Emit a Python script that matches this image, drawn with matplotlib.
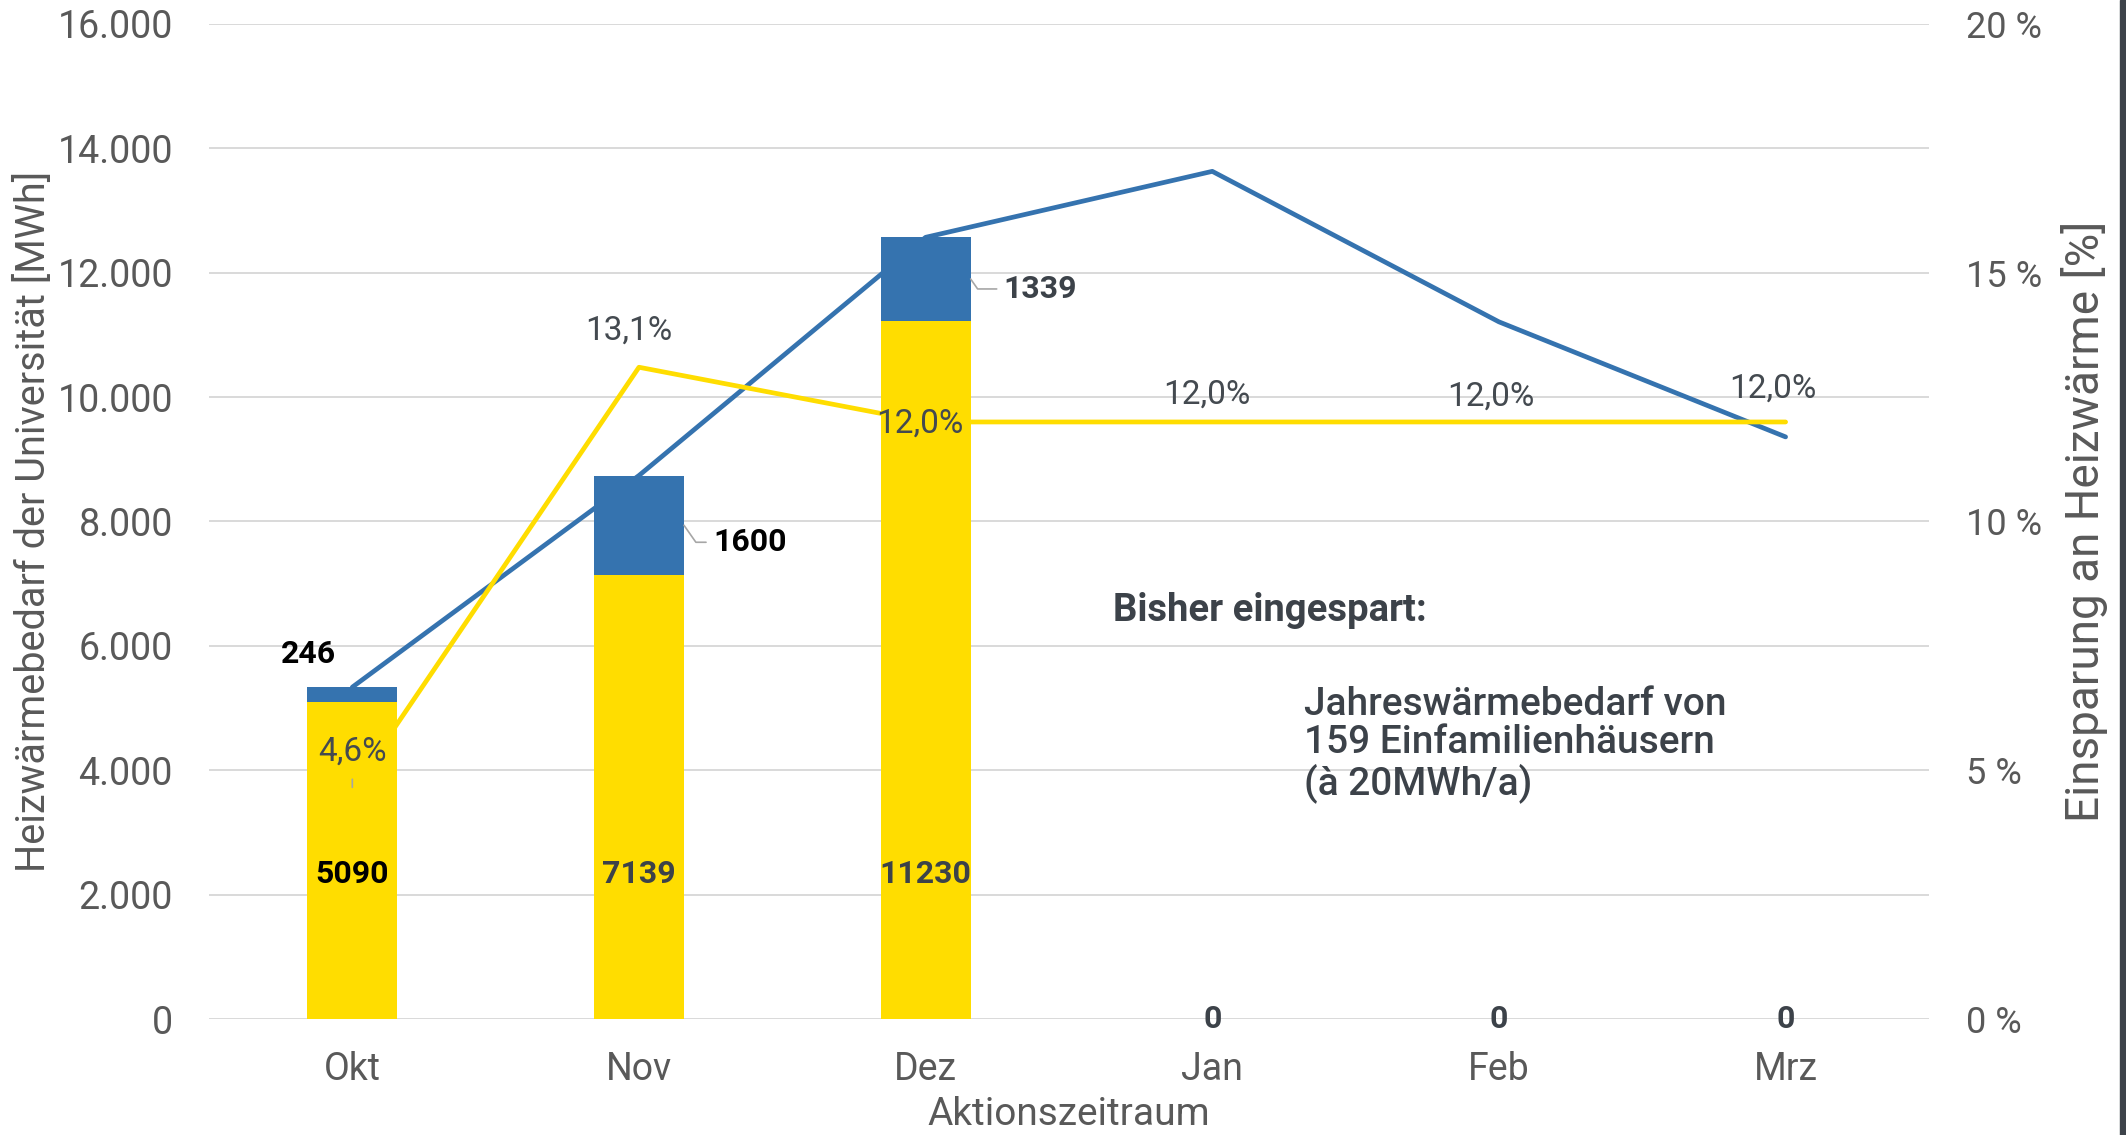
import matplotlib
matplotlib.use('Agg')
import matplotlib.pyplot as plt
from matplotlib.patches import Rectangle
from matplotlib.ticker import FuncFormatter, MultipleLocator

plt.rcParams['font.family'] = ['Roboto', 'DejaVu Sans']

# Daten
monate = ['Okt', 'Nov', 'Dez', 'Jan', 'Feb', 'Mrz']
verbrauch = [5090, 7139, 11230, 0, 0, 0]        # gelb
eingespart = [246, 1600, 1339, 0, 0, 0]          # blau
bedarf_gesamt = [5336, 8739, 12569, 13630, 11210, 9360]
einsparung_proz = [4.6, 13.1, 12.0, 12.0, 12.0, 12.0]
proz_labels = ['4,6%', '13,1%', '12,0%', '12,0%', '12,0%', '12,0%']

GELB = '#FFDD00'
BLAU = '#3573AF'
GRAU = '#595959'
DUNKEL = '#3c4249'

fig = plt.figure(figsize=(21.26, 11.35), dpi=100)
ax = fig.add_axes([0.0983, 0.1022, 0.809, 0.8767])
ax2 = ax.twinx()
ax3 = ax.twinx()

x = list(range(len(monate)))

# Linien (hinter den Balken)
ax.plot(x, bedarf_gesamt, color=BLAU, lw=3.4, solid_capstyle='round', solid_joinstyle='round')
ax2.plot(x, einsparung_proz, color=GELB, lw=3.4, solid_capstyle='round', solid_joinstyle='round')

# Balken
w = 0.314
ax3.bar(x, verbrauch, width=w, color=GELB, zorder=2)
ax3.bar(x, eingespart, width=w, bottom=verbrauch, color=BLAU, zorder=2)

for a in (ax, ax2, ax3):
    a.set_xlim(-0.5, len(monate) - 0.5)
    for s in a.spines.values():
        s.set_visible(False)
    a.tick_params(length=0)
ax.set_ylim(0, 16000)
ax3.set_ylim(0, 16000)
ax2.set_ylim(0, 20)
ax3.set_yticks([])

ax.yaxis.set_major_locator(MultipleLocator(2000))
ax.yaxis.set_major_formatter(FuncFormatter(lambda v, p: f'{v:,.0f}'.replace(',', '.')))
ax.grid(axis='y', color='#d9d9d9', lw=1.4)
ax.set_axisbelow(True)
ax2.yaxis.set_major_locator(MultipleLocator(5))
ax2.yaxis.set_major_formatter(FuncFormatter(lambda v, p: f'{v:.0f} %'))

ax.set_xticks(x)
ax.set_xticklabels(monate)
ax.tick_params(axis='x', labelsize=27, labelcolor=GRAU, pad=23)
ax.tick_params(axis='y', labelsize=27, labelcolor=GRAU, pad=26)
ax2.tick_params(axis='y', labelsize=26, labelcolor=GRAU, pad=27)

ax.set_xlabel('Aktionszeitraum', fontsize=28, color=GRAU, labelpad=6)
ax.set_ylabel('Heizwärmebedarf der Universität [MWh]', fontsize=28.5, color=GRAU, labelpad=3)
ax2.set_ylabel('Einsparung an Heizwärme [%]', fontsize=33, color=GRAU, labelpad=13)

# Beschriftungen der Balken (gelb, innen)
for i, v in enumerate(verbrauch):
    if v > 0:
        ax3.text(i, 2330, str(v), ha='center', va='center', fontsize=23, fontweight='bold',
                 color='black' if i == 0 else DUNKEL, zorder=5)
    else:
        ax3.text(i, 0, '0', ha='center', va='center', fontsize=23, fontweight='bold',
                 color=DUNKEL, zorder=5)

# Beschriftungen der eingesparten Werte
ax3.annotate(str(eingespart[0]), xy=(0, verbrauch[0] + eingespart[0]), xytext=(-44, 33),
             textcoords='offset pixels', ha='center', va='center', fontsize=23,
             fontweight='bold', color='black')
blau_offsets = {1: (29, -17), 2: (33, -10)}
for i, (dx, dy) in blau_offsets.items():
    ax3.annotate(str(eingespart[i]), xy=(i + w / 2, verbrauch[i] + eingespart[i] / 2),
                 xytext=(dx, dy), textcoords='offset pixels', ha='left', va='center',
                 fontsize=23, fontweight='bold', color='black' if i == 1 else DUNKEL,
                 arrowprops=dict(arrowstyle='-', color='#a6a6a6', lw=1.2, shrinkA=3, shrinkB=0,
                                 relpos=(0, 0.5),
                                 connectionstyle='angle,angleA=180,angleB=-55,rad=0'))

# Prozent-Beschriftungen
proz_offsets = [(0, 38), (-10, 37), (-6, -2), (-5, 27), (-8, 25), (-13, 33)]
for i, (lab, (dx, dy)) in enumerate(zip(proz_labels, proz_offsets)):
    kw = {}
    if i == 0:
        kw = dict(arrowprops=dict(arrowstyle='-', color='#a6a6a6', lw=1.2, shrinkA=6, shrinkB=2))
    ax3.annotate(lab, xy=(i, einsparung_proz[i]), xycoords=ax2.transData,
                 xytext=(dx, dy), textcoords='offset pixels', ha='center', va='center',
                 fontsize=24, color='#444a50', zorder=6, **kw)

# Textbox
ax3.text(2.654, 6576, 'Bisher eingespart:', fontsize=27.5, fontweight='semibold', color=DUNKEL,
         ha='left', va='center')
ax3.text(3.32, 4421, 'Jahreswärmebedarf von\n159 Einfamilienhäusern\n(à 20MWh/a)',
         fontsize=28, fontweight='medium', color=DUNKEL, ha='left', va='center',
         linespacing=1.05)

fig.patches.append(Rectangle((2120 / 2126, 0), 6 / 2126, 1, transform=fig.transFigure,
                             color='#3d434a', zorder=10))

fig.savefig('out.png', dpi=100)
